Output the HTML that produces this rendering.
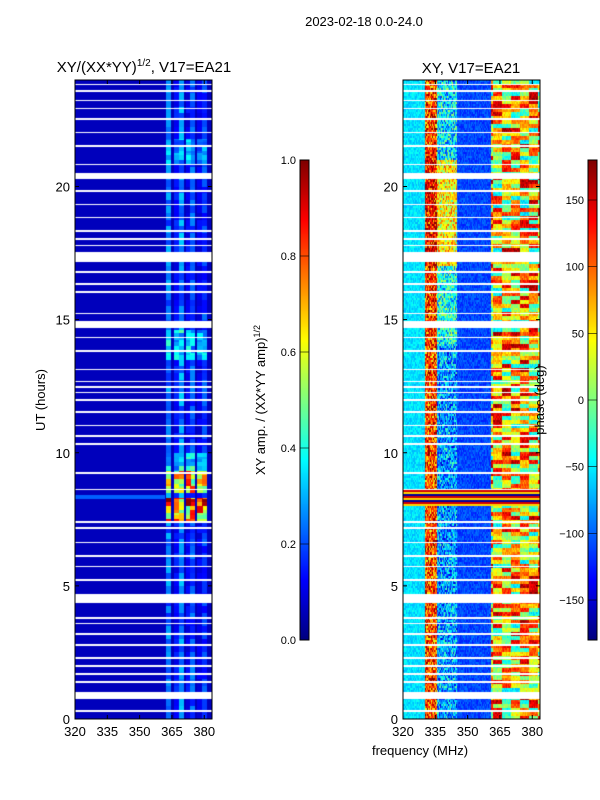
<!DOCTYPE html>
<html><head><meta charset="utf-8">
<style>
body{margin:0;background:#fff;width:600px;height:800px;overflow:hidden;position:relative;font-family:"Liberation Sans",sans-serif}
canvas{position:absolute}
svg{position:absolute;left:0;top:0}
text{font-family:"Liberation Sans",sans-serif;fill:#000}
</style></head>
<body>
<canvas id="amp" width="137" height="639" style="left:75px;top:80px"></canvas>
<canvas id="pha" width="137" height="639" style="left:403px;top:80px"></canvas>
<canvas id="cb1" width="9" height="480" style="left:300px;top:160px"></canvas>
<canvas id="cb2" width="9" height="480" style="left:588px;top:160px"></canvas>
<svg width="600" height="800" id="ov"></svg>
<script>
// ---- data ----
const freqEdges = [320, 383.6];
const timeRange = [0, 24];
const ampColumnFreqs = [363.5, 367, 369.5, 372.5, 374.5, 378, 380];
const ampColumnLevels = [0.26, 0.15, 0.28, 0.13, 0.22, 0.12, 0.2];
const ampBackground = 0.06;
const ampBurstHours = [[7.4, 8.3, 0.8], [8.5, 9.3, 0.72], [9.3, 10.0, 0.4], [13.5, 14.6, 0.38], [20.8, 21.8, 0.32]];
const gapHours = [[0.25,0.35],[0.75,1.0],[1.35,1.42],[1.65,1.72],[1.95,2.02],[2.25,2.32],[2.75,2.82],[3.15,3.22],[3.55,3.6],[3.75,3.82],[4.35,4.7],[5.2,5.25],[5.7,5.76],[6.1,6.16],[6.6,6.66],[7.15,7.2],[7.35,7.42],[8.6,8.65],[9.2,9.26],[10.3,10.36],[10.6,10.66],[11.0,11.06],[11.5,11.56],[11.95,12.0],[12.25,12.3],[12.45,12.5],[12.65,12.7],[13.1,13.16],[13.8,13.86],[14.3,14.36],[14.7,14.95],[15.2,15.26],[16.0,16.06],[16.3,16.36],[16.75,16.82],[17.15,17.55],[17.75,17.82],[18.0,18.06],[18.3,18.36],[18.8,18.86],[19.3,19.36],[19.8,19.86],[20.3,20.5],[20.8,20.86],[21.5,21.56],[22.0,22.06],[22.5,22.56],[22.9,22.96],[23.2,23.26],[23.55,23.62],[23.8,23.86]];
const phaseBandFreqs = [320, 330, 336, 345, 361, 384];
const phaseBandValues = [-55, 110, -80, -110, 55];
const phaseBandNoise = [35, 170, 150, 35, 40];
const phaseHourShift = [[14,17,30],[17,21,90],[21,24,20]];
const ampTicks = [0.0,0.2,0.4,0.6,0.8,1.0];
const phaseTicks = [-150,-100,-50,0,50,100,150];
const xTicks = [320,335,350,365,380];
const yTicks = [0,5,10,15,20];

function jet(v){v=Math.max(0,Math.min(1,v));
 const r=Math.max(0,Math.min(1,1.5-Math.abs(4*v-3))),g=Math.max(0,Math.min(1,1.5-Math.abs(4*v-2))),b=Math.max(0,Math.min(1,1.5-Math.abs(4*v-1)));
 return [r*255|0,g*255|0,b*255|0];}
function hash(i,j){let h=(i*374761393+j*668265263)^0x5bd1e995;h=(h^(h>>>13))*1274126177;return ((h^(h>>>16))>>>0)/4294967296;}
const W=137,H=639;
const fx=x=>freqEdges[0]+(x+0.5)/W*(freqEdges[1]-freqEdges[0]);
const ty=y=>timeRange[1]-(y+0.5)/H*(timeRange[1]-timeRange[0]);
const inGap=t=>gapHours.some(g=>t>=g[0]&&t<=g[1]);
function draw(id,fn){const c=document.getElementById(id).getContext('2d');const im=c.createImageData(W,H);
 for(let y=0;y<H;y++){const t=ty(y);const gap=inGap(t);const row=Math.floor(y/2);
  for(let x=0;x<W;x++){const k=(y*W+x)*4;let col=gap?[255,255,255]:jet(fn(fx(x),t,x,row));
   im.data[k]=col[0];im.data[k+1]=col[1];im.data[k+2]=col[2];im.data[k+3]=255;}}
 c.putImageData(im,0,0);}
draw('amp',(f,t,x,row)=>{let v=ampBackground;
 for(let i=0;i<ampColumnFreqs.length;i++){if(Math.abs(f-ampColumnFreqs[i])<1.2){let lv=ampColumnLevels[i];
   for(const b of ampBurstHours) if(t>=b[0]&&t<b[1]) lv=Math.max(lv,b[2]*(0.8+0.3*hash(i,Math.floor(t*6))));
   v=Math.max(v,lv*(0.6+0.6*hash(i,Math.floor(t*4))));}}
 if(f<362&&t>8.28&&t<8.4) v=0.22;
 return v;});
draw('pha',(f,t,x,row)=>{let i=0;while(i<phaseBandValues.length-1&&f>=phaseBandFreqs[i+1])i++;
 let p=phaseBandValues[i];for(const s of phaseHourShift) if(t>=s[0]&&t<s[1]&&(i===1||i===2)) p+=s[2]*(i===2?1.4:0.3);
 if(i===4) p+= 220*(hash(Math.floor(x/9),Math.floor(row/2))-0.5);
 let nz=hash(x,row)-0.5; if(i===1||i===2) nz=Math.sign(nz)*Math.pow(Math.abs(nz)*2,1.5)/2;
 p+=phaseBandNoise[i]*nz;
 if(t>8.0&&t<8.6) p=(row%3===0?-170:(row%3===1?150:60));
 return (p+180)/360;});
function cbar(id){const c=document.getElementById(id).getContext('2d');for(let y=0;y<480;y++){const [r,g,b]=jet(1-y/479);c.fillStyle=`rgb(${r},${g},${b})`;c.fillRect(0,y,9,1);}}
cbar('cb1');cbar('cb2');
// ---- overlay ----
const ov=document.getElementById('ov');const NS='http://www.w3.org/2000/svg';
function el(tag,attrs,txt){const e=document.createElementNS(NS,tag);for(const k in attrs)e.setAttribute(k,attrs[k]);if(txt!==undefined)e.textContent=txt;ov.appendChild(e);return e;}
const xs=(x0,f)=>x0+(f-freqEdges[0])/(freqEdges[1]-freqEdges[0])*W;
const ys=t=>80+(timeRange[1]-t)/(timeRange[1]-timeRange[0])*H;
[[75,'left'],[403,'right']].forEach(([x0,nm])=>{
 const r=el('rect',{x:x0,y:80,width:W,height:H,fill:'none',stroke:'#000','stroke-width':1});
 
 
 xTicks.forEach(v=>{const X=xs(x0,v);el('line',{x1:X,x2:X,y1:719,y2:715,stroke:'#000'});el('line',{x1:X,x2:X,y1:80,y2:84,stroke:'#000'});
  const t=el('text',{x:X,y:736,'font-size':13,'text-anchor':'middle'},v);
  
  });
 yTicks.forEach(v=>{const Y=ys(v);el('line',{x1:x0,x2:x0+4,y1:Y,y2:Y,stroke:'#000'});el('line',{x1:x0+W-4,x2:x0+W,y1:Y,y2:Y,stroke:'#000'});
  const t=el('text',{x:x0-5,y:Y+5,'font-size':13,'text-anchor':'end'},v);
  
  });
});
[[300,ampTicks,v=>640-v*480,v=>v.toFixed(1),'amp'],[588,phaseTicks,v=>400-v/360*480,v=>v<0?'\u2212'+(-v):''+v,'phase']].forEach(([x0,tk,pos,fmt,nm])=>{
 el('rect',{x:x0,y:160,width:9,height:480,fill:'none',stroke:'#000'});
 tk.forEach(v=>{const Y=pos(v);el('line',{x1:x0,x2:x0+9,y1:Y,y2:Y,stroke:'#000','stroke-width':0.6});
  const t=el('text',{x:x0-4,y:Y+4,'font-size':11,'text-anchor':'end'},fmt(v));
  
  });
});
</script>
<svg width="600" height="800" style="pointer-events:none">
<text x="364" y="26" font-size="13" text-anchor="middle">2023-02-18 0.0-24.0</text>
<text x="144" y="72" font-size="15" text-anchor="middle">XY/(XX*YY)<tspan font-size="10" dy="-6">1/2</tspan><tspan dy="6">, V17=EA21</tspan></text>
<text x="471" y="73" font-size="15" text-anchor="middle">XY, V17=EA21</text>
<text transform="translate(45,400) rotate(-90)" font-size="13" text-anchor="middle">UT (hours)</text>
<text transform="translate(265,400) rotate(-90)" font-size="13" text-anchor="middle">XY amp. / (XX*YY amp)<tspan font-size="9" dy="-5">1/2</tspan></text>
<text transform="translate(544,400) rotate(-90)" font-size="13" text-anchor="middle">phase (deg)</text>
<text x="420" y="755" font-size="13" text-anchor="middle">frequency (MHz)</text>
</svg>
</body></html>
